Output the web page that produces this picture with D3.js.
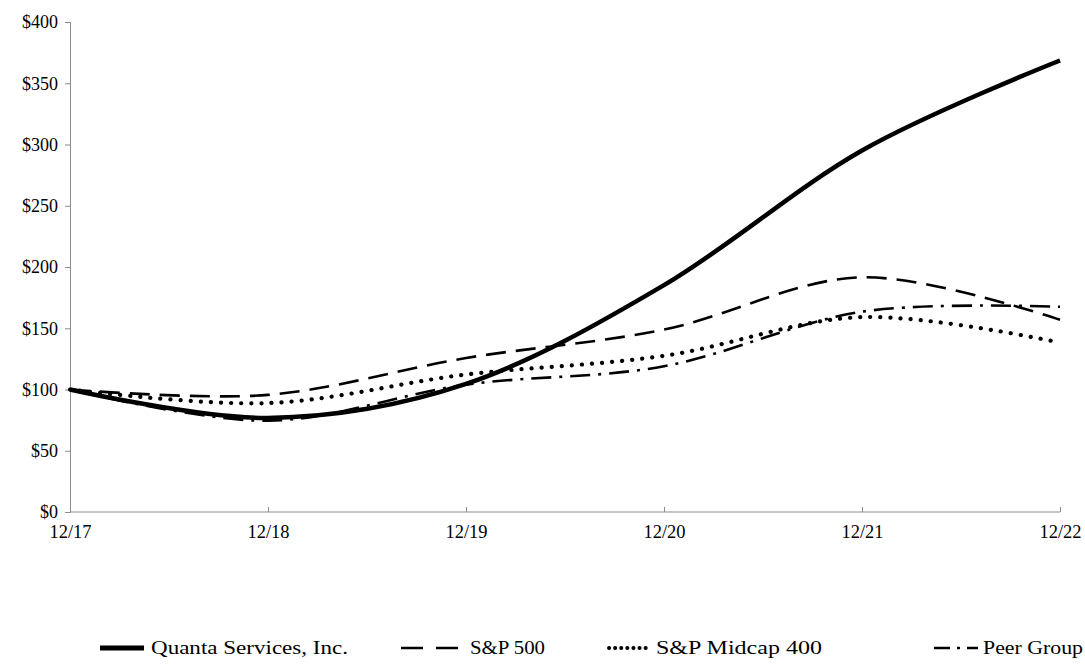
<!DOCTYPE html>
<html><head><meta charset="utf-8">
<script src="https://cdn.jsdelivr.net/npm/d3@7"></script>
<style>
body{margin:0;background:#fff;}
text{font-family:"Liberation Serif","Times New Roman",serif;}
</style></head>
<body><svg id="c" width="1085" height="666"></svg>
<script>
const categories = ["12/17","12/18","12/19","12/20","12/21","12/22"];
const quanta = [100, 76.8, 104.6, 185.2, 295.1, 368.6];
const sp500 = [100, 95.6, 125.7, 148.9, 191.6, 156.9];
const midcap400 = [100, 88.9, 112.2, 127.5, 159.1, 138.3];
const peerGroup = [100, 74.5, 104.0, 119.0, 163.5, 167.5];
const yTicks = [0, 50, 100, 150, 200, 250, 300, 350, 400];
const seriesNames = ["Quanta Services, Inc.", "S&P 500", "S&P Midcap 400", "Peer Group"];

const svg = d3.select("#c");
const x = d3.scalePoint().domain(categories).range([70, 1060]);
const y = d3.scaleLinear().domain([0, 400]).range([512, 22]);

const axisColor = "#8c8c8c";
const ya = svg.append("g").attr("transform","translate(70,0)")
  .call(d3.axisLeft(y).tickValues(yTicks).tickSize(5).tickPadding(7).tickFormat(d => "$" + d));
ya.attr("font-family", null).attr("font-size", null);
ya.select(".domain").attr("stroke", axisColor);
ya.selectAll(".tick line").attr("stroke", axisColor);
ya.selectAll(".tick text").attr("font-size", 18).attr("fill", "#000");

const xa = svg.append("g").attr("transform","translate(0,512)")
  .call(d3.axisBottom(x).tickSize(-5).tickSizeOuter(0).tickPadding(13));
xa.attr("font-family", null).attr("font-size", null);
xa.select(".domain").attr("stroke", axisColor).attr("d", "M70,0H1060");
xa.selectAll(".tick line").attr("stroke", axisColor);
xa.selectAll(".tick text").attr("font-size", 18).attr("fill", "#000")
  .attr("textLength", 42).attr("lengthAdjust", "spacingAndGlyphs");

const styles = [
  {data: quanta, w: 4.5, dash: null, cap: "butt"},
  {data: sp500, w: 2.6, dash: "20,10", cap: "butt"},
  {data: midcap400, w: 4.2, dash: "0.1,10", cap: "round"},
  {data: peerGroup, w: 2.6, dash: "20,8,3,8", cap: "butt"}
];
const line = d3.line().x((d,i) => x(categories[i])).y(d => y(d)).curve(d3.curveCardinal.tension(0));

[3,2,1,0].forEach(k => {
  const s = styles[k];
  svg.append("path").datum(s.data).attr("d", line)
    .attr("fill","none").attr("stroke","#000").attr("stroke-width", s.w)
    .attr("stroke-linecap", s.cap).attr("stroke-linejoin","round")
    .attr("stroke-dasharray", s.dash);
});

const legendPos = [
  {x1: 100, x2: 144, tx: 151, tl: 197},
  {x1: 401, x2: 458, tx: 470, tl: 75},
  {x1: 609, x2: 651, tx: 656, tl: 166},
  {x1: 934, x2: 978, tx: 983, tl: 100}
];
const legendDash = [null, "22,13,22", "0.1,6", "16,7,3,7,16"];
const ly = 648;
seriesNames.forEach((n, i) => {
  const p = legendPos[i];
  svg.append("line").attr("x1", p.x1).attr("x2", p.x2).attr("y1", ly).attr("y2", ly)
    .attr("stroke","#000").attr("stroke-width", i === 0 ? 5 : (i === 2 ? 4 : 2.6))
    .attr("stroke-linecap", i === 2 ? "round" : "butt")
    .attr("stroke-dasharray", legendDash[i]);
  svg.append("text").attr("x", p.tx).attr("y", ly + 6).attr("font-size", 19)
    .attr("textLength", p.tl).attr("lengthAdjust", "spacingAndGlyphs")
    .attr("fill","#000").text(n);
});
</script></body></html>
